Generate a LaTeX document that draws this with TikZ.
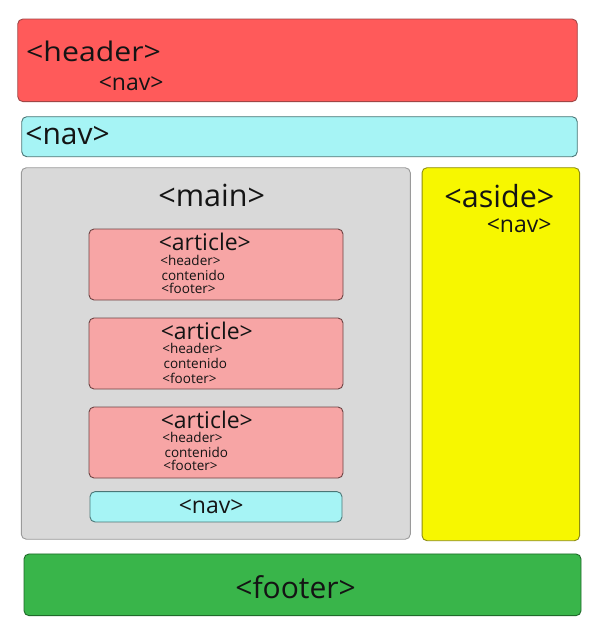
\documentclass[tikz,border=0pt]{standalone}
\usepackage{fontspec}
\setmainfont{Open Sans}
\newcommand\fsz[1]{\fontsize{#1}{#1}\selectfont}
\definecolor{hdrfill}{HTML}{FF5A5A}
\definecolor{hdrline}{HTML}{A04646}
\definecolor{navfill}{HTML}{A6F4F5}
\definecolor{navline}{HTML}{4A7676}
\definecolor{mainfill}{HTML}{D9D9D9}
\definecolor{mainline}{HTML}{9A9A9A}
\definecolor{asidefill}{HTML}{F7F700}
\definecolor{asideline}{HTML}{8C8C10}
\definecolor{artfill}{HTML}{F7A5A5}
\definecolor{artline}{HTML}{6E4444}
\definecolor{footfill}{HTML}{39B54A}
\definecolor{footline}{HTML}{1F6B2A}
\definecolor{txt}{HTML}{141414}
\begin{document}
\begin{tikzpicture}[x=1pt,y=-1pt,
  box/.style={rectangle, rounded corners=5pt, line width=0.9pt, inner sep=0pt},
  lbl/.style={anchor=base west, inner sep=0pt, text=txt}]
\useasboundingbox (0,0) rectangle (600,634);
\fill[white] (0,0) rectangle (600,634);
% boxes
\node[box, fill=hdrfill, draw=hdrline, minimum width=559.5pt, minimum height=82.5pt] (header) at (297.5,60.3) {};
\node[box, fill=navfill, draw=navline, minimum width=555.5pt, minimum height=40pt] (nav) at (299.5,136.7) {};
\node[box, fill=mainfill, draw=mainline, minimum width=389pt, minimum height=371.5pt] (main) at (215.8,353.5) {};
\node[box, fill=asidefill, draw=asideline, minimum width=157.5pt, minimum height=373pt] (aside) at (500.8,354.2) {};
\node[box, fill=artfill, draw=artline, minimum width=254pt, minimum height=71pt] (art1) at (216,264.5) {};
\node[box, fill=artfill, draw=artline, minimum width=254pt, minimum height=71pt] (art2) at (216,353.5) {};
\node[box, fill=artfill, draw=artline, minimum width=254pt, minimum height=71pt] (art3) at (216,442.5) {};
\node[box, fill=navfill, draw=navline, minimum width=252pt, minimum height=30.3pt] (nav2) at (216,506.8) {};
\node[box, fill=footfill, draw=footline, minimum width=557pt, minimum height=61.7pt] (footer) at (302.5,584.8) {};
% labels
\node[lbl, font=\fsz{27}] (tHeader) at (26,61) {\scalebox{1.12}[1]{<header>}};
\node[lbl, font=\fsz{23}] (tHeaderNav) at (98.6,90) {<nav>};
\node[lbl, font=\fsz{30}] (tNav) at (25.2,144) {<nav>};
\node[lbl, font=\fsz{30.5}] (tMain) at (158.2,206) {<main>};
\node[lbl, font=\fsz{30.5}] (tAside) at (444.2,207) {<aside>};
\node[lbl, font=\fsz{23}] (tAsideNav) at (486.6,232) {<nav>};
% article 1
\node[lbl, font=\fsz{23}] (a1t) at (158.6,250) {<article>};
\node[lbl, font=\fsz{13.5}] (a1h) at (160.2,265) {<header>};
\node[lbl, font=\fsz{13.5}] (a1c) at (161.4,280) {contenido};
\node[lbl, font=\fsz{13.5}] (a1f) at (161.2,293.5) {<footer>};
% article 2
\node[lbl, font=\fsz{23}] (a2t) at (160.6,339) {<article>};
\node[lbl, font=\fsz{13.5}] (a2h) at (162.2,353.5) {<header>};
\node[lbl, font=\fsz{13.5}] (a2c) at (163.4,368) {contenido};
\node[lbl, font=\fsz{13.5}] (a2f) at (162.2,383) {<footer>};
% article 3
\node[lbl, font=\fsz{23}] (a3t) at (160.6,428) {<article>};
\node[lbl, font=\fsz{13.5}] (a3h) at (162.2,442.5) {<header>};
\node[lbl, font=\fsz{13.5}] (a3c) at (164.4,457) {contenido};
\node[lbl, font=\fsz{13.5}] (a3f) at (163.2,470.5) {<footer>};
\node[lbl, font=\fsz{23}] (tNav2) at (178.6,513) {<nav>};
\node[lbl, font=\fsz{30}] (tFooter) at (235.2,598) {<footer>};
\end{tikzpicture}
\end{document}
